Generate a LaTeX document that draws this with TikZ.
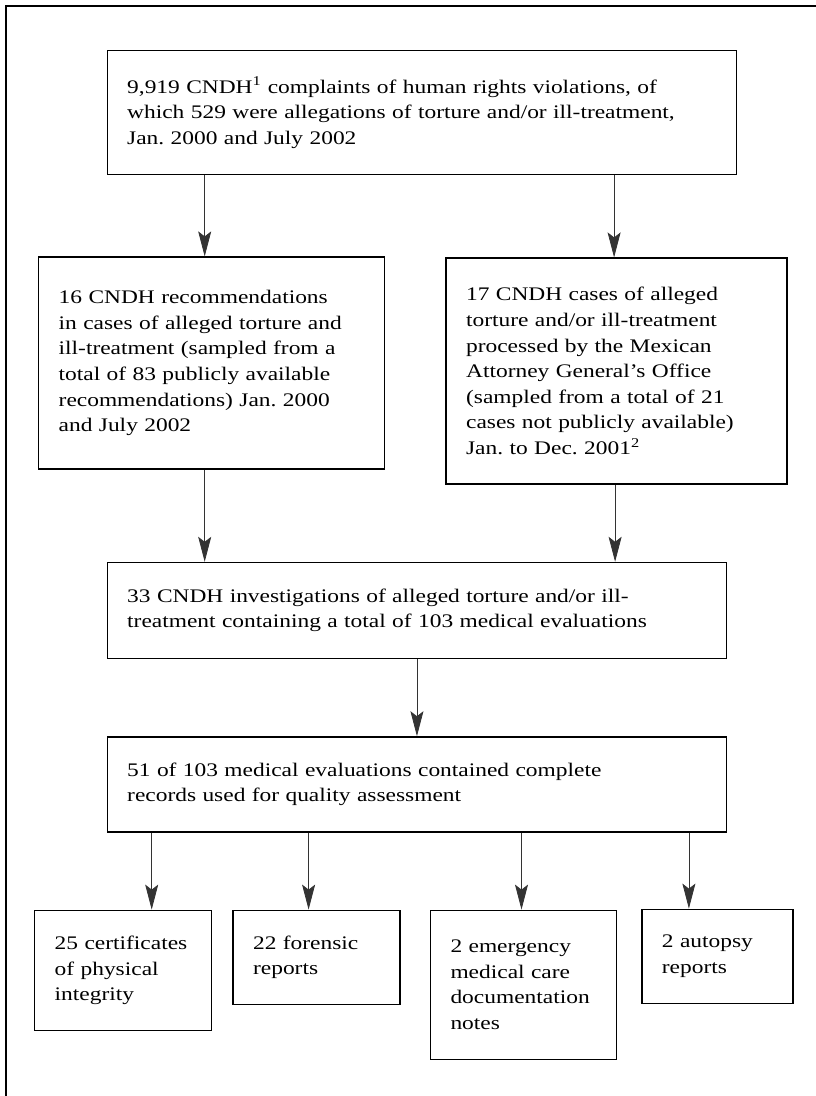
\documentclass[tikz,border=0pt]{standalone}
\usepackage{fontspec}
\setmainfont{Liberation Serif}[FakeStretch=1.22]
\usetikzlibrary{arrows.meta,positioning}
\newcommand{\boxfont}{\fontsize{19.2pt}{25.6pt}\selectfont\frenchspacing}

\begin{document}
\begin{tikzpicture}[x=1pt, y=1pt,
  box/.style={draw, line width=1.4pt, align=left, anchor=north west, inner xsep=20pt, inner ysep=0pt, font=\boxfont},
  arrow/.style={-{Stealth[length=25pt, width=13pt, inset=5pt]}, line width=0.8pt, draw=black!80}
]
\useasboundingbox (0,0) rectangle (815,-1096);
\draw[line width=1.2pt] (6,-6) rectangle (830,-1110);

\node[box, minimum width=629pt, minimum height=124pt, text width=589pt] (top) at (106.5,-50)
  {9,919 CNDH\textsuperscript{1} complaints of human rights violations, of\\
   which 529 were allegations of torture and/or ill-treatment,\\
   Jan. 2000 and July 2002};
\node[box, minimum width=346pt, minimum height=212pt, text width=306pt,
  below=81pt of top.south west, anchor=north west, xshift=-68.5pt] (rec)
  {16 CNDH recommendations\\
   in cases of alleged torture and\\
   ill-treatment (sampled from a\\
   total of 83 publicly available\\
   recommendations) Jan. 2000\\
   and July 2002};
\node[box, minimum width=341pt, minimum height=226pt, text width=301pt,
  right=60pt of rec.north east, anchor=north west, yshift=-1pt] (pgr)
  {17 CNDH cases of alleged\\
   torture and/or ill-treatment\\
   processed by the Mexican\\
   Attorney General's Office\\
   (sampled from a total of 21\\
   cases not publicly available)\\
   Jan. to Dec. 2001\textsuperscript{2}};
\node[box, minimum width=619.5pt, minimum height=96pt, text width=579.5pt,
  below=92pt of rec.south west, anchor=north west, xshift=68.5pt] (inv)
  {33 CNDH investigations of alleged torture and/or ill-\\
   treatment containing a total of 103 medical evaluations};
\node[box, minimum width=619.5pt, minimum height=95pt, text width=579.5pt,
  below=77pt of inv.south west, anchor=north west] (eval)
  {51 of 103 medical evaluations contained complete\\
   records used for quality assessment};
\node[box, minimum width=177pt, minimum height=120pt, text width=137pt,
  below=77pt of eval.south west, anchor=north west, xshift=-72.5pt] (cert)
  {25 certificates\\ of physical\\ integrity};
\node[box, minimum width=167pt, minimum height=94pt, text width=127pt,
  right=20pt of cert.north east, anchor=north west] (forens)
  {22 forensic\\ reports};
\node[box, minimum width=186pt, minimum height=149pt, text width=146pt,
  right=29pt of forens.north east, anchor=north west] (emerg)
  {2 emergency\\ medical care\\ documentation\\ notes};
\node[box, minimum width=151pt, minimum height=94pt, text width=111pt,
  right=24pt of emerg.north east, anchor=north west, yshift=1pt] (autop)
  {2 autopsy\\ reports};

% first level
\draw[arrow] ([xshift=-7pt]rec.north |- top.south) -- ([xshift=-7pt]rec.north);
\draw[arrow] ([xshift=-2.5pt]pgr.north |- top.south) -- ([xshift=-2.5pt]pgr.north);
% merge into the investigations
\draw[arrow] ([xshift=-7pt]rec.south) -- ([xshift=-7pt]rec.south |- inv.north);
\draw[arrow] ([xshift=-1.5pt]pgr.south) -- ([xshift=-1.5pt]pgr.south |- inv.north);
\draw[arrow] (inv.south) -- (eval.north);
% the four kinds of evaluation
\draw[arrow] ([xshift=28.5pt]cert.north |- eval.south) -- ([xshift=28.5pt]cert.north);
\draw[arrow] ([xshift=-8pt]forens.north |- eval.south) -- ([xshift=-8pt]forens.north);
\draw[arrow] ([xshift=-2pt]emerg.north |- eval.south) -- ([xshift=-2pt]emerg.north);
\draw[arrow] ([xshift=-28.5pt]autop.north |- eval.south) -- ([xshift=-28.5pt]autop.north);
\end{tikzpicture}
\end{document}
